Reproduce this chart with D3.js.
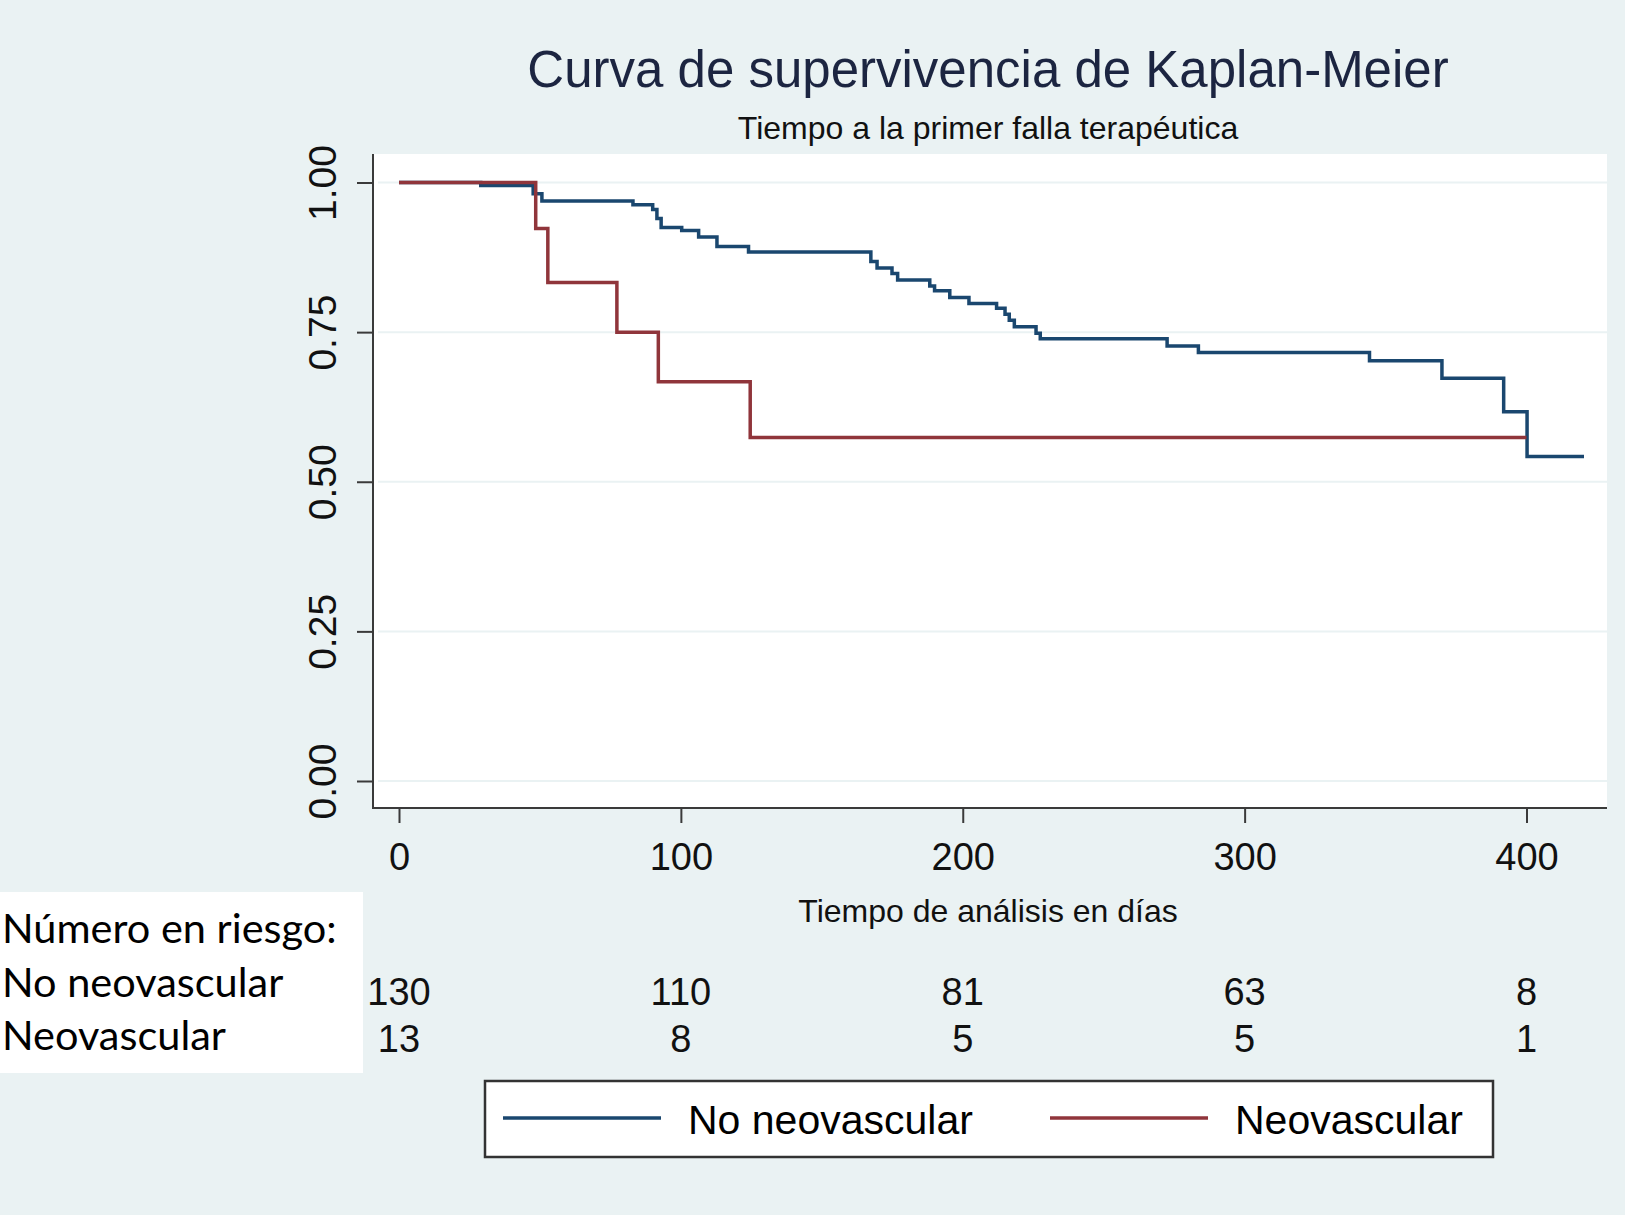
<!DOCTYPE html>
<html>
<head>
<meta charset="utf-8">
<script src="https://cdn.jsdelivr.net/npm/d3@7"></script>
<style>
  body { margin: 0; background: #eaf2f3; }
  svg { display: block; }
</style>
</head>
<body>
<svg id="km" width="1625" height="1219"></svg>
<script>
// step times (days) and survival after each step
const noNeoTimes = [0, 29, 47.6, 50.7, 83, 90, 91.5, 93, 100.3, 106.3, 112.8, 124,
  167.4, 169.6, 174.9, 176.9, 188.3, 190, 195.4, 202.2, 212, 215, 216.5, 218.3,
  226, 227.5, 272.5, 283.6, 344.3, 370, 391.9, 400.2];
const noNeoSurv = [1, 0.995, 0.981, 0.969, 0.963, 0.955, 0.94, 0.925, 0.92, 0.909, 0.893, 0.884,
  0.868, 0.857, 0.848, 0.837, 0.827, 0.819, 0.808, 0.798, 0.79, 0.78, 0.77, 0.759,
  0.748, 0.739, 0.727, 0.716, 0.702, 0.673, 0.617, 0.542];
const noNeoEnd = 420.4;

const neoTimes = [0, 48.5, 52.8, 77.3, 92, 124.6];
const neoSurv = [1, 0.923, 0.833, 0.75, 0.667, 0.574];
const neoEnd = 400;

const xTicks = [0, 100, 200, 300, 400];
const yTicks = [0, 0.25, 0.5, 0.75, 1];
const riskNoNeo = [130, 110, 81, 63, 8];
const riskNeo = [13, 8, 5, 5, 1];
const groups = ["No neovascular", "Neovascular"];
const colors = ["#1a476f", "#90353b"];

const svg = d3.select("#km");

svg.append("rect").attr("width", 1625).attr("height", 1219).attr("fill", "#eaf2f3");
svg.append("rect").attr("y", 1215).attr("width", 1625).attr("height", 4).attr("fill", "#fff");

// plot region
const plotL = 373, plotR = 1607, plotT = 154, plotB = 808;
const x = d3.scaleLinear().domain([0, 400]).range([399, 1526.5]);
const y = d3.scaleLinear().domain([0, 1]).range([781, 182.5]);

svg.append("rect")
  .attr("x", plotL).attr("y", plotT)
  .attr("width", plotR - plotL).attr("height", plotB - plotT)
  .attr("fill", "#fff");

// grid
svg.append("g").selectAll("line")
  .data(yTicks)
  .join("line")
  .attr("x1", plotL + 5).attr("x2", plotR)
  .attr("y1", d => y(d)).attr("y2", d => y(d))
  .attr("stroke", "#eaf2f3").attr("stroke-width", 2);

// curves
function stepData(times, surv, end) {
  const pts = times.map((t, i) => [t, surv[i]]);
  pts.push([end, surv[surv.length - 1]]);
  return pts;
}
const line = d3.line()
  .x(d => x(d[0]))
  .y(d => y(d[1]))
  .curve(d3.curveStepAfter);

const series = [
  stepData(noNeoTimes, noNeoSurv, noNeoEnd),
  stepData(neoTimes, neoSurv, neoEnd)
];
series.forEach((s, i) => {
  svg.append("path")
    .datum(s)
    .attr("d", line)
    .attr("fill", "none")
    .attr("stroke", colors[i])
    .attr("stroke-width", 3.5);
});

// axes
const axisColor = "#3a3a3a";
const yAxis = svg.append("g")
  .attr("transform", `translate(${plotL},0)`)
  .call(d3.axisLeft(y).tickValues(yTicks).tickSize(16).tickFormat(d3.format(".2f")));
yAxis.select(".domain").remove();
yAxis.selectAll(".tick line").attr("stroke", axisColor).attr("stroke-width", 2);
yAxis.selectAll(".tick text")
  .attr("transform", "rotate(-90)")
  .attr("x", 0).attr("y", -37).attr("dy", null)
  .attr("text-anchor", "middle")
  .attr("fill", "#111")
  .style("font-family", "Liberation Sans, Arial, sans-serif")
  .style("font-size", "39px");

const xAxis = svg.append("g")
  .attr("transform", `translate(0,${plotB})`)
  .call(d3.axisBottom(x).tickValues(xTicks).tickSize(15).tickFormat(d3.format("d")));
xAxis.select(".domain").remove();
xAxis.selectAll(".tick line").attr("stroke", axisColor).attr("stroke-width", 2);
xAxis.selectAll(".tick text")
  .attr("y", 62).attr("dy", null)
  .attr("fill", "#111")
  .style("font-family", "Liberation Sans, Arial, sans-serif")
  .style("font-size", "38px");

svg.append("line")
  .attr("x1", plotL).attr("x2", plotL).attr("y1", plotT).attr("y2", plotB + 1)
  .attr("stroke", axisColor).attr("stroke-width", 2);
svg.append("line")
  .attr("x1", plotL - 1).attr("x2", plotR).attr("y1", plotB).attr("y2", plotB)
  .attr("stroke", axisColor).attr("stroke-width", 2);

// titles
const arial = "Liberation Sans, Arial, sans-serif";
svg.append("text")
  .attr("x", 988).attr("y", 87)
  .attr("text-anchor", "middle")
  .attr("fill", "#1c2541")
  .style("font-family", arial).style("font-size", "51px")
  .text("Curva de supervivencia de Kaplan-Meier");
svg.append("text")
  .attr("x", 988).attr("y", 139)
  .attr("text-anchor", "middle")
  .attr("fill", "#111")
  .style("font-family", arial).style("font-size", "32px")
  .text("Tiempo a la primer falla terapéutica");
svg.append("text")
  .attr("x", 988).attr("y", 922)
  .attr("text-anchor", "middle")
  .attr("fill", "#111")
  .style("font-family", arial).style("font-size", "32px")
  .text("Tiempo de análisis en días");

// number at risk
svg.append("rect")
  .attr("x", 0).attr("y", 892).attr("width", 363).attr("height", 181)
  .attr("fill", "#fff");
const riskLabels = ["Número en riesgo:", groups[0], groups[1]];
svg.append("g").selectAll("text")
  .data(riskLabels)
  .join("text")
  .attr("x", 2)
  .attr("y", (d, i) => 943 + i * 53.5)
  .attr("fill", "#000")
  .style("font-family", "Lato, sans-serif")
  .style("font-size", "41.5px")
  .text(d => d);

[riskNoNeo, riskNeo].forEach((row, r) => {
  svg.append("g").selectAll("text")
    .data(row)
    .join("text")
    .attr("x", (d, i) => x(xTicks[i]))
    .attr("y", r === 0 ? 1005 : 1052)
    .attr("text-anchor", "middle")
    .attr("fill", "#111")
    .style("font-family", arial).style("font-size", "38px")
    .text(d => d);
});

// legend
const legend = svg.append("g");
legend.append("rect")
  .attr("x", 485).attr("y", 1081).attr("width", 1008).attr("height", 76)
  .attr("fill", "#fff").attr("stroke", "#333").attr("stroke-width", 2.5);
const legX = [503, 1050];
groups.forEach((g, i) => {
  legend.append("line")
    .attr("x1", legX[i]).attr("x2", legX[i] + 158)
    .attr("y1", 1118).attr("y2", 1118)
    .attr("stroke", colors[i]).attr("stroke-width", 3.5);
  legend.append("text")
    .attr("x", legX[i] + 185).attr("y", 1134)
    .attr("fill", "#000")
    .style("font-family", arial).style("font-size", "41px")
    .text(g);
});
</script>
</body>
</html>
